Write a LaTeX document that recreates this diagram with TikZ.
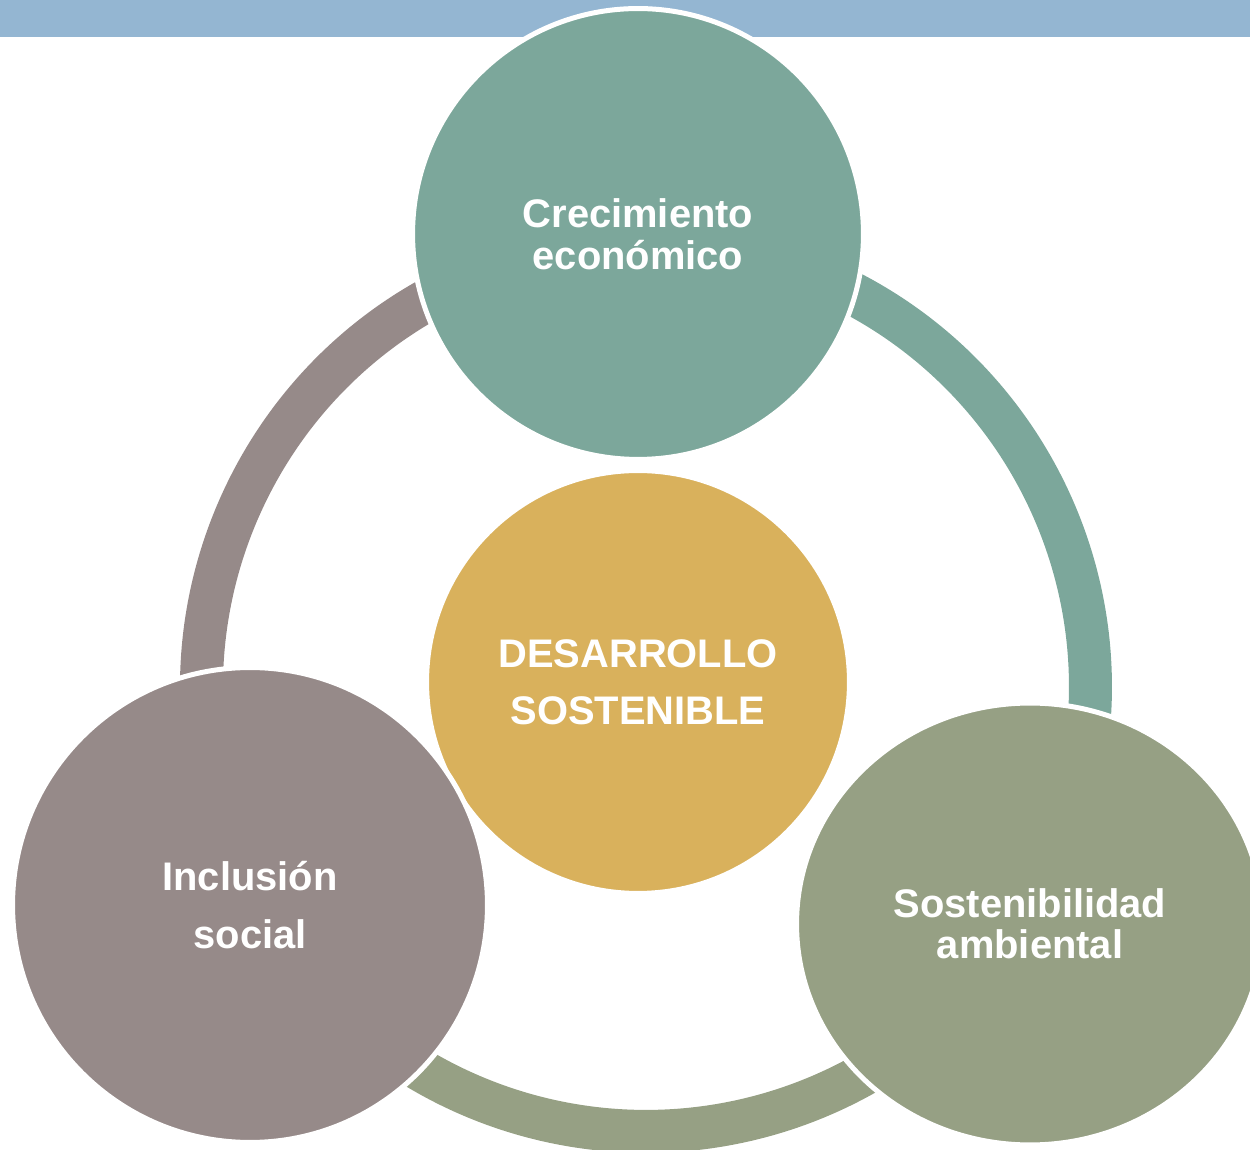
\documentclass[tikz,border=0pt]{standalone}
\usepackage{fontspec}
\setmainfont{Liberation Sans}
\usetikzlibrary{shapes.geometric}
\definecolor{barblue}{HTML}{94B6D2}
\definecolor{cteal}{HTML}{7CA79B}
\definecolor{cgold}{HTML}{D9B15C}
\definecolor{cgray}{HTML}{968A89}
\definecolor{colive}{HTML}{96A084}
\begin{document}
\begin{tikzpicture}[x=0.02cm,y=0.02cm,
  bubble/.style={circle,inner sep=0pt,draw=white,line width=0.1cm,align=center,text=white,font=\bfseries},
  ringarc/.style={line width=0.86cm}]
\useasboundingbox (0,0) rectangle (1250,1149);
\fill[barblue] (0,1112) rectangle (1250,1149);
\coordinate (ring) at (646,462);
\draw[ringarc,cteal] ([shift={(70:8.89cm)}]ring) arc[start angle=70,end angle=-10,radius=8.89cm];
\draw[ringarc,colive] ([shift={(-40:8.89cm)}]ring) arc[start angle=-40,end angle=-140,radius=8.89cm];
\draw[ringarc,cgray] ([shift={(200:8.89cm)}]ring) arc[start angle=200,end angle=110,radius=8.89cm];
\node[bubble,fill=cteal,minimum size=9.02cm,font=\bfseries\fontsize{22.7}{23.9}\selectfont] (eco) at (638,915) {Crecimiento\\económico};
\node[bubble,fill=cgold,minimum size=8.46cm,font=\bfseries\fontsize{22.7}{32.4}\selectfont] (des) at (638,467) {DESARROLLO\\SOSTENIBLE};
\node[bubble,fill=cgray,minimum size=9.5cm,font=\bfseries\fontsize{22.7}{33}\selectfont] (inc) at (250,244) {Inclusión\\social};
\node[bubble,ellipse,fill=colive,minimum width=9.34cm,minimum height=8.84cm,font=\bfseries\fontsize{22.7}{23.3}\selectfont] (sos) at (1030,225) {Sostenibilidad\\ambiental};
\end{tikzpicture}
\end{document}
